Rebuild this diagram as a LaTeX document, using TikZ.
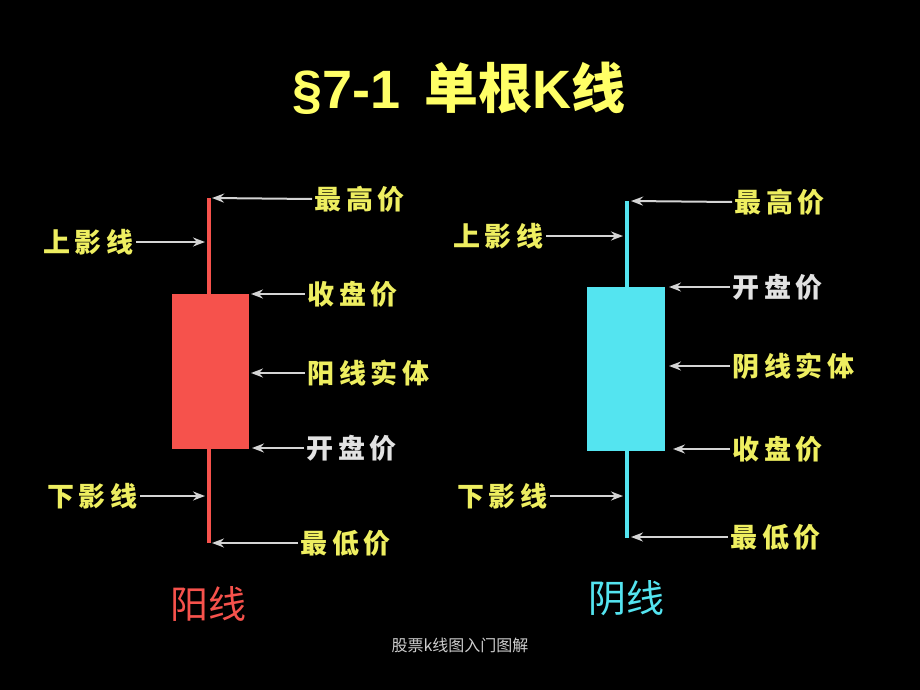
\documentclass[tikz,border=0pt]{standalone}
\usepackage{fontspec}
\setmainfont{Liberation Sans}
\newfontfamily\cjk{Noto Sans CJK SC}
\newfontfamily\cjklbl[LetterSpace=18]{Noto Sans CJK SC}
\usetikzlibrary{arrows.meta,positioning}
\definecolor{labelyellow}{RGB}{238,238,96}
\definecolor{titleyellow}{RGB}{255,255,102}
\definecolor{openwhite}{RGB}{226,226,226}
\definecolor{arrowgrey}{RGB}{212,212,212}
\definecolor{footgrey}{RGB}{205,205,205}
\definecolor{yangred}{RGB}{246,82,76}
\definecolor{yincyan}{RGB}{84,228,240}
\tikzset{
        % Price labels
        lbl/.style={font=\cjklbl\bfseries\fontsize{27}{30}\selectfont, text=labelyellow, inner sep=2pt},
        % Opening price label (light)
        lbl_open/.style={lbl, text=openwhite},
        % Pointer arrows
        ptr/.style={draw=arrowgrey, line width=2pt, -{Stealth[length=12pt,width=9pt,inset=4pt]}},
        % Candle wick
        wick/.style={line width=4pt},
        % Candle name below
        candle_name/.style={font=\cjk\fontsize{38}{40}\selectfont, inner sep=0pt}
}
\begin{document}
\begin{tikzpicture}[x=1pt, y=-1pt]
    \fill[black] (0,0) rectangle (920,690);
    \useasboundingbox (0,0) rectangle (920,690);

    % title
    \node[text=titleyellow, font=\bfseries\fontsize{54}{60}\selectfont] (title) at (459,88)
        {\S7-1\hspace{0.15em} {\cjk\bfseries 单根}K{\cjk\bfseries 线}};

    % red candle
    \coordinate (rTop) at (209,198);
    \coordinate (rBot) at (209,543);
    \draw[wick, yangred] (rTop) -- (rBot);
    \fill[yangred] (172,294) rectangle (249,449);
    \coordinate (rHiP) at (212,198);
    \coordinate (rUpP) at (205,242);
    \coordinate (rCloseP) at (251,294);
    \coordinate (rBodyP) at (251,373);
    \coordinate (rOpenP) at (252,448);
    \coordinate (rDnP) at (205,496);
    \coordinate (rLoP) at (212,543);

    \node[lbl, anchor=west] (rHi) at (312,199) {最高价};
    \node[lbl, anchor=east] (rUp) at (136,242) {上影线};
    \node[lbl, anchor=west] (rClose) at (305,294) {收盘价};
    \node[lbl, anchor=west] (rBody) at (305,373) {阳线实体};
    \node[lbl_open, anchor=west] (rOpen) at (304,448) {开盘价};
    \node[lbl, anchor=east] (rDn) at (140,496) {下影线};
    \node[lbl, anchor=west] (rLo) at (298,543) {最低价};

    \draw[ptr] (rHi.west) -- (rHiP);
    \draw[ptr] (rUp.east) -- (rUpP);
    \draw[ptr] (rClose.west) -- (rCloseP);
    \draw[ptr] (rBody.west) -- (rBodyP);
    \draw[ptr] (rOpen.west) -- (rOpenP);
    \draw[ptr] (rDn.east) -- (rDnP);
    \draw[ptr] (rLo.west) -- (rLoP);

    \node[candle_name, text=yangred] (yang) at (208,604) {阳线};

    % cyan candle
    \coordinate (cTop) at (627,201);
    \coordinate (cBot) at (627,538);
    \draw[wick, yincyan] (cTop) -- (cBot);
    \fill[yincyan] (587,287) rectangle (665,451);
    \coordinate (cHiP) at (631,201);
    \coordinate (cUpP) at (623,236);
    \coordinate (cOpenP) at (669,287);
    \coordinate (cBodyP) at (669,366);
    \coordinate (cCloseP) at (673,449);
    \coordinate (cDnP) at (623,496);
    \coordinate (cLoP) at (631,537);

    \node[lbl, anchor=west] (cHi) at (732,202) {最高价};
    \node[lbl, anchor=east] (cUp) at (546,236) {上影线};
    \node[lbl_open, anchor=west] (cOpen) at (730,287) {开盘价};
    \node[lbl, anchor=west] (cBody) at (730,366) {阴线实体};
    \node[lbl, anchor=west] (cClose) at (730,449) {收盘价};
    \node[lbl, anchor=east] (cDn) at (550,496) {下影线};
    \node[lbl, anchor=west] (cLo) at (728,537) {最低价};

    \draw[ptr] (cHi.west) -- (cHiP);
    \draw[ptr] (cUp.east) -- (cUpP);
    \draw[ptr] (cOpen.west) -- (cOpenP);
    \draw[ptr] (cBody.west) -- (cBodyP);
    \draw[ptr] (cClose.west) -- (cCloseP);
    \draw[ptr] (cDn.east) -- (cDnP);
    \draw[ptr] (cLo.west) -- (cLoP);

    \node[candle_name, text=yincyan] (yin) at (626,598) {阴线};

    % footer
    \node[text=footgrey, font=\cjk\fontsize{16}{18}\selectfont] (foot) at (460,645) {股票k线图入门图解};
\end{tikzpicture}
\end{document}
